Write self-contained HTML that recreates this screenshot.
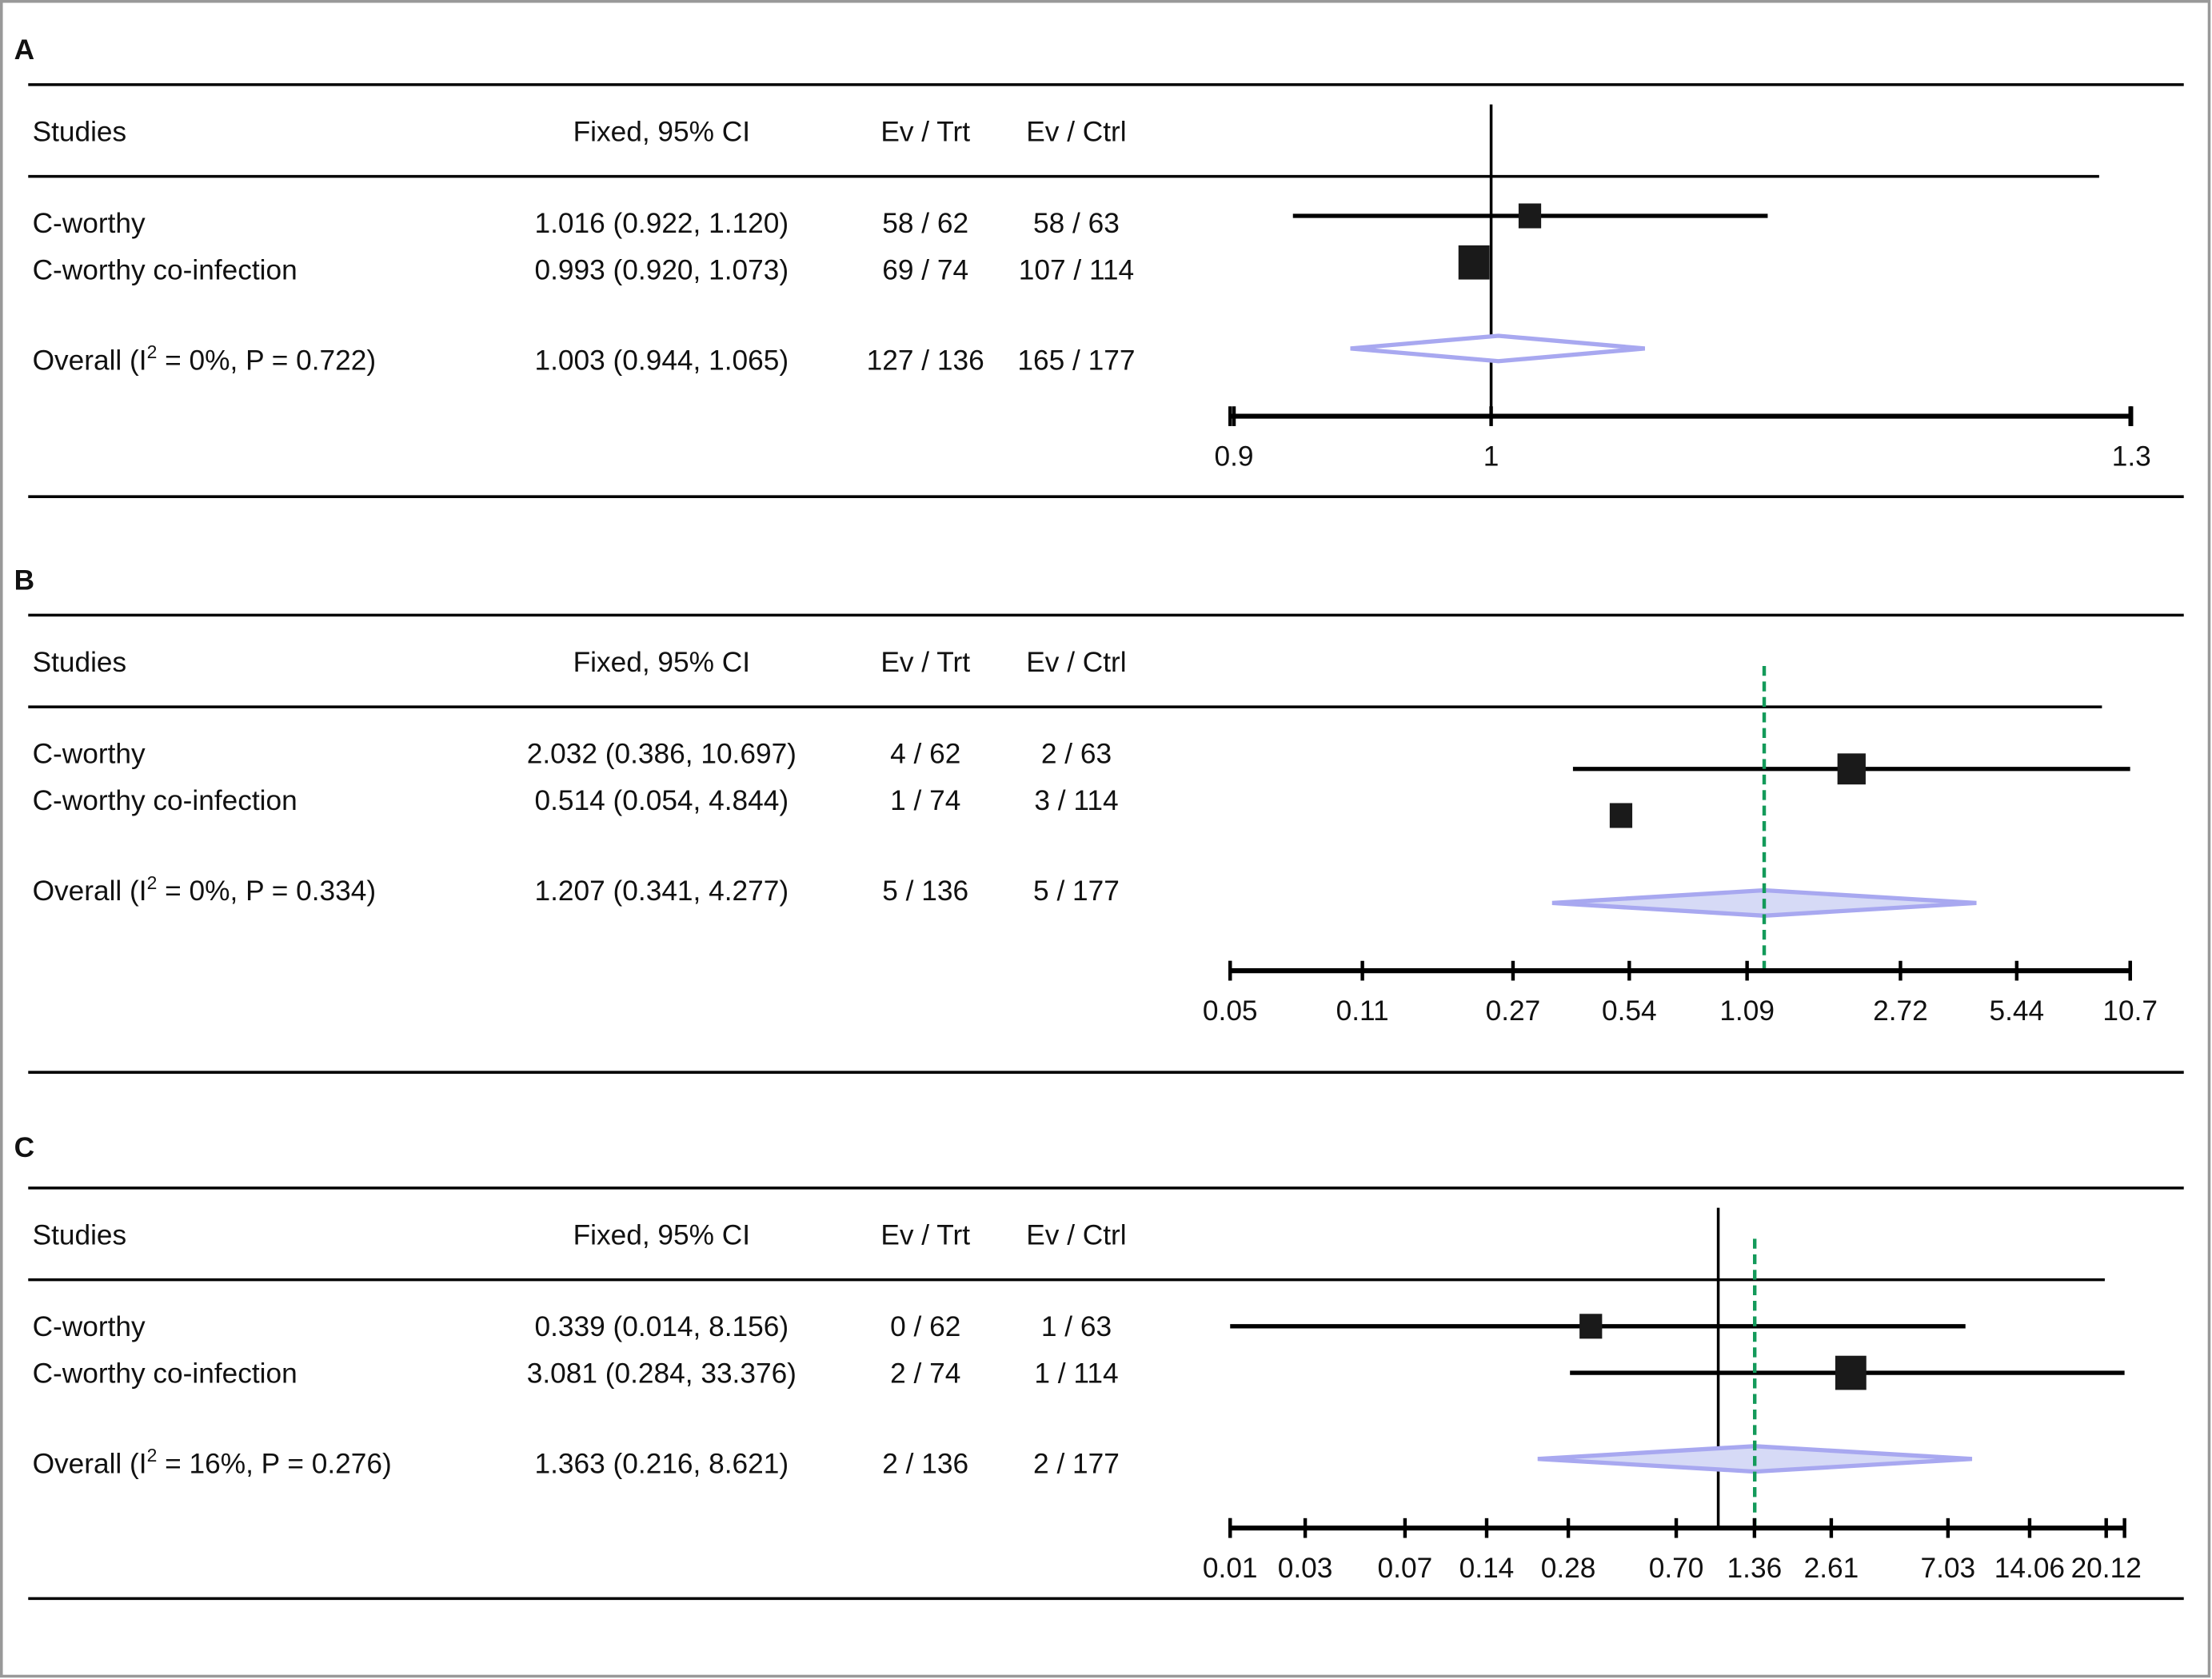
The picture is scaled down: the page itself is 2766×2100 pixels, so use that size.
<!DOCTYPE html>
<html><head><meta charset="utf-8"><style>
html,body{margin:0;padding:0;background:#fff}
svg{display:block}
text{font-family:"Liberation Sans Narrow","Liberation Sans",sans-serif;font-size:20px;fill:#111}
</style></head><body>
<svg id="fig" width="2766" height="2100" viewBox="0 0 1568 1190" preserveAspectRatio="none" xmlns="http://www.w3.org/2000/svg">
<rect x="1" y="1" width="1565" height="1187" fill="#fff" stroke="#999" stroke-width="2"/>
</svg>
<script>
// ---- data ----
const panelLabels = ["A","B","C"];
const studyNames = ["C-worthy","C-worthy co-infection"];
const estA = [1.016, 0.993]; const loA = [0.922, 0.920]; const hiA = [1.120, 1.073];
const estB = [2.032, 0.514]; const loB = [0.386, 0.054]; const hiB = [10.697, 4.844];
const estC = [0.339, 3.081]; const loC = [0.014, 0.284]; const hiC = [8.156, 33.376];
const overallEst = [1.003, 1.207, 1.363];
const overallLo = [0.944, 0.341, 0.216];
const overallHi = [1.065, 4.277, 8.621];
const overallText = ["Overall (I|2| = 0%, P = 0.722)","Overall (I|2| = 0%, P = 0.334)","Overall (I|2| = 16%, P = 0.276)"];
const ciTextA = ["1.016 (0.922, 1.120)","0.993 (0.920, 1.073)","1.003 (0.944, 1.065)"];
const ciTextB = ["2.032 (0.386, 10.697)","0.514 (0.054, 4.844)","1.207 (0.341, 4.277)"];
const ciTextC = ["0.339 (0.014, 8.156)","3.081 (0.284, 33.376)","1.363 (0.216, 8.621)"];
const evTrtA = ["58 / 62","69 / 74","127 / 136"]; const evCtrlA = ["58 / 63","107 / 114","165 / 177"];
const evTrtB = ["4 / 62","1 / 74","5 / 136"]; const evCtrlB = ["2 / 63","3 / 114","5 / 177"];
const evTrtC = ["0 / 62","2 / 74","2 / 136"]; const evCtrlC = ["1 / 63","1 / 114","2 / 177"];
const ticksA = [0.9, 1, 1.3];
const ticksB = [0.05, 0.11, 0.27, 0.54, 1.09, 2.72, 5.44, 10.7];
const ticksC = [0.01, 0.03, 0.07, 0.14, 0.28, 0.70, 1.36, 2.61, 7.03, 14.06, 20.12];
const weightsA = [0.8, 1.1]; const weightsB = [1.0, 0.8]; const weightsC = [0.8, 1.1];
const showCI = [[true,false],[true,false],[true,true]];

const svg = document.getElementById('fig');
const NS = "http://www.w3.org/2000/svg";
function mk(tag, attrs, parent){ const e=document.createElementNS(NS,tag); for(const k in attrs) e.setAttribute(k,attrs[k]); (parent||svg).appendChild(e); return e; }
function txt(x,y,s,anchor,parent){ const t=mk('text',{x:x,y:y,'text-anchor':anchor||'start'},parent); t.textContent=s; return t; }

const scales = [
  v => 1057 + 1730*Math.log(v),
  v => 872 + 118.9*Math.log(v/0.05),
  v => Math.min(1506, Math.max(872, 1218 + 83.5*Math.log(v)))
];
const clampB = v => Math.min(1513, Math.max(872, v));
const panels = [
  {est:estA, lo:loA, hi:hiA, ci:ciTextA, tr:evTrtA, ct:evCtrlA, ticks:ticksA, w:weightsA, hdrEnd:1488, axisEnd:1510, nullLine:true, green:false, diamondFill:"#ffffff", markOff:0, diaOff:0},
  {est:estB, lo:loB, hi:hiB, ci:ciTextB, tr:evTrtB, ct:evCtrlB, ticks:ticksB, w:weightsB, hdrEnd:1490, axisEnd:1510, nullLine:false, green:true, diamondFill:"#d6daf6", markOff:16, diaOff:17},
  {est:estC, lo:loC, hi:hiC, ci:ciTextC, tr:evTrtC, ct:evCtrlC, ticks:ticksC, w:weightsC, hdrEnd:1492, axisEnd:1506, nullLine:true, green:true, diamondFill:"#d6daf6", markOff:5, diaOff:5}
];

panels.forEach((p,i)=>{
  const g = mk('g',{});
  
  
  const sc = scales[i];
  const S = v => i==1 ? clampB(sc(v)) : sc(v);
  const lbl = txt(10, (i==0?42:i==1?418:820), panelLabels[i], 'start', g);
  lbl.setAttribute('font-weight','bold');
  
  
  const y0 = i==0?60:i==1?436:842;
  mk('line',{x1:20,y1:y0,x2:1548,y2:y0,stroke:'#000','stroke-width':2},g);
  const hy = y0+33;
  [["Studies",23,'start'],["Fixed, 95% CI",469,'middle'],["Ev / Trt",656,'middle'],["Ev / Ctrl",763,'middle']].forEach(h=>{
    const t=txt(h[1],hy+7,h[0],h[2],g);
    
    
  });
  const hl = y0+65;
  mk('line',{x1:20,y1:hl,x2:p.hdrEnd,y2:hl,stroke:'#000','stroke-width':2},g);
  const rows=[y0+98, y0+131, y0+195];
  const axisY = y0 + (i==0?235:i==1?252:241);
  if(p.nullLine){
    const nx = sc(1);
    const nl = mk('line',{x1:nx,y1:y0+14,x2:nx,y2:axisY,stroke:'#000','stroke-width':2},g);
    
    
  }
  for(let r=0;r<2;r++){
    const y=rows[r];
    const n=txt(23,y+7,studyNames[r],'start',g);
    
    
    txt(469,y+7,p.ci[r],'middle',g);
    txt(656,y+7,p.tr[r],'middle',g);
    txt(763,y+7,p.ct[r],'middle',g);
    const my = y-5+p.markOff;
    if(showCI[i][r]){
      const l=mk('line',{x1:S(p.lo[r]),y1:my,x2:S(p.hi[r]),y2:my,stroke:'#000','stroke-width':3},g);
      
      
    }
    const cx=S(p.est[r]); const hw=10*p.w[r], hh=11*p.w[r];
    const sq=mk('rect',{x:cx-hw,y:my-hh,width:2*hw,height:2*hh,fill:'#1a1a1a'},g);
    
    
  }
  const oy=rows[2];
  const parts=overallText[i].split('|');
  const ot=mk('text',{x:23,y:oy+7},g);
  
  
  const s1=mk('tspan',{},ot); s1.textContent=parts[0];
  const s2=mk('tspan',{dy:-8,'font-size':13},ot); s2.textContent=parts[1];
  const s3=mk('tspan',{dy:8},ot); s3.textContent=parts[2];
  txt(469,oy+7,p.ci[2],'middle',g);
  txt(656,oy+7,p.tr[2],'middle',g);
  txt(763,oy+7,p.ct[2],'middle',g);
  const dy=oy-8+p.diaOff;
  const a=S(overallLo[i]), b=S(overallHi[i]), c=S(overallEst[i]);
  const dm=mk('polygon',{points:`${a},${dy} ${c},${dy-9} ${b},${dy} ${c},${dy+9}`,fill:p.diamondFill,stroke:'#a8a8f0','stroke-width':3},g);
  
  
  if(p.green){
    const gx=sc(overallEst[i]);
    const gl=mk('line',{x1:gx,y1:y0+36,x2:gx,y2:axisY,stroke:'#139a5a','stroke-width':2.5,'stroke-dasharray':'7,4'},g);
    
    
  }
  const ax=mk('line',{x1:872,y1:axisY,x2:p.axisEnd,y2:axisY,stroke:'#000','stroke-width':3.5},g);
  
  
  p.ticks.forEach((t,k)=>{
    let x=S(t);
    if(i==2 && k==p.ticks.length-1) x=1493;
    mk('line',{x1:x,y1:axisY-7,x2:x,y2:axisY+7,stroke:'#000','stroke-width':2.5},g);
    const tl=txt(x,axisY+35,(i==2? t.toFixed(2): String(t)),'middle',g);
    
    
  });
  mk('line',{x1:p.axisEnd,y1:axisY-7,x2:p.axisEnd,y2:axisY+7,stroke:'#000','stroke-width':2.5},g);
  mk('line',{x1:872,y1:axisY-7,x2:872,y2:axisY+7,stroke:'#000','stroke-width':2.5},g);
  const yb = i==0?352:i==1?760:1133;
  mk('line',{x1:20,y1:yb,x2:1548,y2:yb,stroke:'#000','stroke-width':2},g);
});
</script>
</body></html>
